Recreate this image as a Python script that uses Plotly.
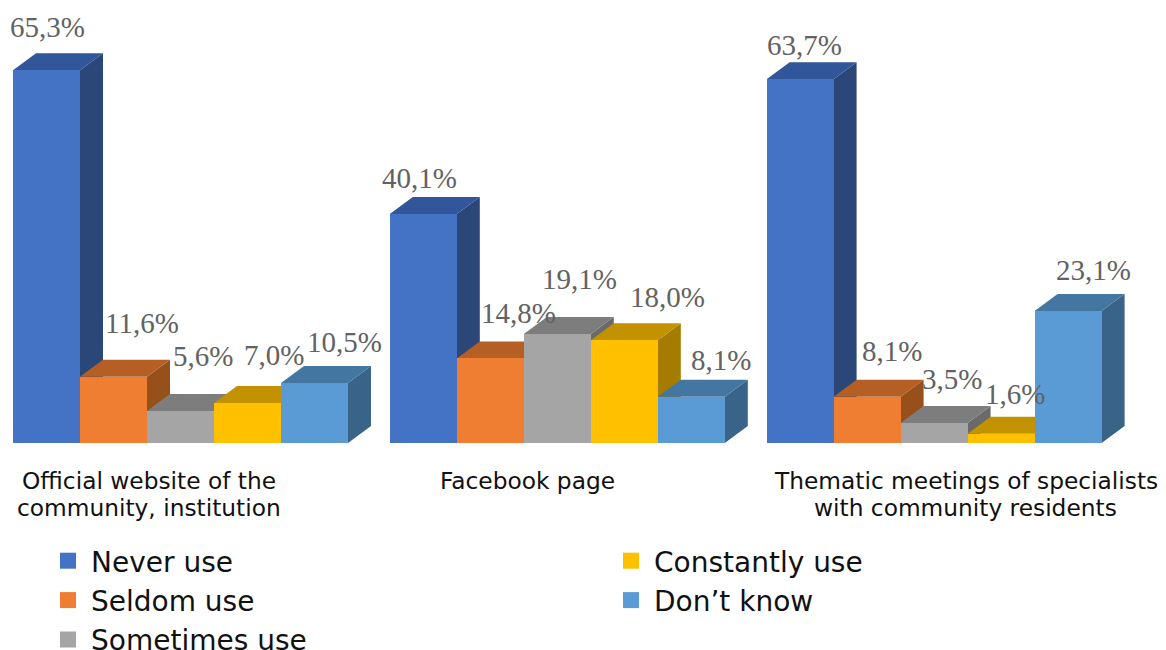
import plotly.graph_objects as go

# ---- data ----
categories = ["Official website of the<br>community, institution",
              "Facebook page",
              "Thematic meetings of specialists<br>with community residents"]
never_use = [65.3, 40.1, 63.7]
seldom_use = [11.6, 14.8, 8.1]
sometimes_use = [5.6, 19.1, 3.5]
constantly_use = [7.0, 18.0, 1.6]
dont_know = [10.5, 8.1, 23.1]
series_names = ["Never use", "Seldom use", "Sometimes use", "Constantly use", "Don’t know"]
series_values = [never_use, seldom_use, sometimes_use, constantly_use, dont_know]

# ---- styling / layout ----
W, H = 1166, 650
PX_X = 67.0      # pixels per bar width
PX_Y = 5.71      # pixels per percent
LEFT = 13.0
BASE = 443.0
PITCH = 376.8 / PX_X
DX = 23.0 / PX_X
DY = 17.0 / PX_Y
front = ["#4472C4", "#F07E32", "#A5A5A5", "#FFC000", "#5B9BD5"]
top = ["#31569A", "#B55F24", "#7D7D7D", "#C29200", "#4476A2"]
side = ["#2A4778", "#98501B", "#6A6A6A", "#A47C00", "#3A6389"]
# label offsets from bar centre / top, in pixels (hand placed in the source chart)
label_dx = [[0.5, 28, 22, 26, 30], [-4, 28, 22, 43, 30], [4, 25, 18, 14, 25]]
label_dy = [[43, 54, 55, 48, 41], [36, 45, 55, 43, 37], [34, 46, 44, 40, 41]]
TEXT_FONT = "DejaVu Sans"
VALUE_FONT = "Liberation Serif"

xr = [-LEFT / PX_X, (W - LEFT) / PX_X]
yr = [-(H - BASE) / PX_Y, BASE / PX_Y]


def bar_x(g, j):
    return g * PITCH + j + 0.5


fig = go.Figure()

# sides and tops are drawn behind, left to right
for j, vals in enumerate(series_values):
    sx, sy, tx, ty = [], [], [], []
    for g, v in enumerate(vals):
        l, r = bar_x(g, j) - 0.5, bar_x(g, j) + 0.5
        sx += [r, r + DX, r + DX, r, r, None]
        sy += [0, DY, v + DY, v, 0, None]
        tx += [l, l + DX, r + DX, r, l, None]
        ty += [v, v + DY, v + DY, v, v, None]
    for xs, ys, col in ((sx, sy, side[j]), (tx, ty, top[j])):
        fig.add_trace(go.Scatter(x=xs, y=ys, mode="lines", fill="toself", fillcolor=col,
                                 line=dict(width=0, color=col), showlegend=False,
                                 hoverinfo="skip"))

# fronts on an overlaid subplot, so they cover the neighbouring sides
for j, vals in enumerate(series_values):
    fig.add_trace(go.Bar(x=[bar_x(g, j) for g in range(3)], y=vals, width=1.0,
                         marker=dict(color=front[j], line=dict(width=0)),
                         name=series_names[j], showlegend=False,
                         xaxis="x2", yaxis="y2"))

# legend entries
for j, name in enumerate(series_names):
    fig.add_trace(go.Scatter(x=[None], y=[None], mode="markers", name=name,
                             marker=dict(symbol="square", size=16, color=front[j]),
                             legend="legend" if j < 3 else "legend2",
                             xaxis="x2", yaxis="y2"))

ann = []
for j, vals in enumerate(series_values):
    for g, v in enumerate(vals):
        ann.append(dict(x=bar_x(g, j), y=v, xref="x2", yref="y2", showarrow=False,
                        text=f"{v:.1f}%".replace(".", ","),
                        xshift=label_dx[g][j], yshift=label_dy[g][j],
                        xanchor="center", yanchor="middle",
                        font=dict(family=VALUE_FONT, size=29, color="#626262")))

cat_x = [149.5, 527.5, 965.5]
for g, cat in enumerate(categories):
    for k, line in enumerate(cat.split("<br>")):
        ann.append(dict(x=cat_x[g] / W, y=1 - (480 + 27 * k) / H, xref="paper", yref="paper",
                        showarrow=False, text=line, xanchor="center", yanchor="middle",
                        font=dict(family=TEXT_FONT, size=23.3, color="#111111")))

hidden = dict(visible=False, fixedrange=True)
legend_style = dict(font=dict(family=TEXT_FONT, size=28, color="#111111"),
                    bgcolor="rgba(0,0,0,0)", itemsizing="trace", itemwidth=36, xanchor="left",
                    yanchor="top", yref="paper", xref="paper", traceorder="normal")
fig.update_layout(
    width=W, height=H, margin=dict(l=0, r=0, t=0, b=0, pad=0, autoexpand=False),
    paper_bgcolor="white", plot_bgcolor="white", barmode="overlay", bargap=0,
    xaxis=dict(range=xr, **hidden), yaxis=dict(range=yr, **hidden),
    xaxis2=dict(range=xr, overlaying="x", **hidden),
    yaxis2=dict(range=yr, overlaying="y", **hidden),
    annotations=ann,
    legend=dict(x=45 / W, y=1 - 536 / H, **legend_style),
    legend2=dict(x=608 / W, y=1 - 536 / H, **legend_style),
)
fig.write_html("out.html", config=dict(displayModeBar=False),
               post_script="document.body.style.margin='0';document.documentElement.style.overflow='hidden';")
